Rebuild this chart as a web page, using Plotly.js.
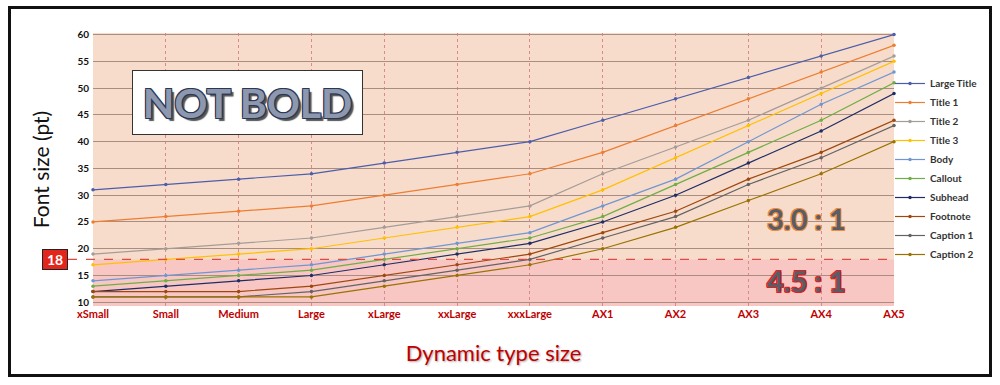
<!DOCTYPE html>
<html>
<head>
<meta charset="utf-8">
<script src="https://cdn.plot.ly/plotly-3.0.1.min.js"></script>
<style>html,body{margin:0;padding:0;background:#fff;}#chart{width:1000px;height:385px;}</style>
</head>
<body>
<div id="chart"></div>
<script>
// Dynamic type size categories
const categories = ["xSmall","Small","Medium","Large","xLarge","xxLarge","xxxLarge","AX1","AX2","AX3","AX4","AX5"];

// Font sizes (pt) per text style
const largeTitle = [31,32,33,34,36,38,40,44,48,52,56,60];
const title1     = [25,26,27,28,30,32,34,38,43,48,53,58];
const title2     = [19,20,21,22,24,26,28,34,39,44,50,56];
const title3     = [17,18,19,20,22,24,26,31,37,43,49,55];
const body       = [14,15,16,17,19,21,23,28,33,40,47,53];
const callout    = [13,14,15,16,18,20,22,26,32,38,44,51];
const subhead    = [12,13,14,15,17,19,21,25,30,36,42,49];
const footnote   = [12,12,12,13,15,17,19,23,27,33,38,44];
const caption1   = [11,11,11,12,14,16,18,22,26,32,37,43];
const caption2   = [11,11,11,11,13,15,17,20,24,29,34,40];

const seriesNames = ["Large Title","Title 1","Title 2","Title 3","Body","Callout","Subhead","Footnote","Caption 1","Caption 2"];
const seriesValues = [largeTitle,title1,title2,title3,body,callout,subhead,footnote,caption1,caption2];
const seriesColors = ["#4b5dab","#ed7d31","#a59c98","#ffc000","#6f96d2","#70ad47","#1f2d66","#9e480e","#636363","#997300"];

const threshold = 18;
const ratioHigh = "3.0 : 1";
const ratioLow = "4.5 : 1";

const traces = seriesNames.map((n,i)=>({
  type:"scatter", mode:"lines+markers", name:n,
  x:categories, y:seriesValues[i],
  line:{color:seriesColors[i], width:1.2},
  marker:{color:seriesColors[i], size:3.5},
  cliponaxis:false
}));

const F = "Lato, 'Open Sans', sans-serif";
const px = p => (p-93)/801;        // pixel x -> paper x
const py = p => (306-p)/273;       // pixel y -> paper y

const layout = {
  width:1000, height:385,
  margin:{l:93, r:106, t:33, b:79},
  paper_bgcolor:"#ffffff",
  plot_bgcolor:"#f8dccb",
  font:{family:F, color:"#222"},
  showlegend:true,
  legend:{x:px(890), y:py(69), xanchor:"left", yanchor:"top",
    font:{family:F, size:10, color:"#333", weight:"bold"},
    bgcolor:"rgba(0,0,0,0)", tracegroupgap:0},
  xaxis:{type:"category", range:[0,11], showgrid:true, gridcolor:"#d98a8a", gridwidth:1, griddash:"dot",
    zeroline:false, showline:false, ticks:"",
    tickfont:{family:F, size:11, color:"#c00000", weight:"bold"},
    title:{text:"Dynamic type size", font:{family:F, size:22, color:"#c00000", shadow:"1px 1px 2px #aaa"}, standoff:26}},
  yaxis:{range:[9.3,60.3], tick0:10, dtick:5, showgrid:true, gridcolor:"#a98d80", gridwidth:1,
    zeroline:false, showline:false, ticks:"", ticklabelstandoff:3,
    tickfont:{family:F, size:10, color:"#111", weight:"bold"},
    title:{text:"Font size (pt)", font:{family:F, size:21, color:"#111"}, standoff:22}},
  shapes:[
    {type:"rect", xref:"paper", yref:"y", x0:0, x1:1, y0:9.3, y1:threshold, fillcolor:"#f8c6c3", line:{width:0}, layer:"below"},
    {type:"line", xref:"paper", yref:"y", x0:px(68), x1:1, y0:threshold, y1:threshold, line:{color:"#e04a45", width:1.2, dash:"dash"}, layer:"above"},
    {type:"rect", xref:"paper", yref:"paper", x0:px(9.5), x1:px(990.5), y0:py(375.5), y1:py(7.5), line:{color:"#111", width:3}, fillcolor:"rgba(0,0,0,0)", layer:"above"}
  ],
  annotations:[
    {xref:"paper", yref:"y", x:px(55), y:threshold, xanchor:"center", yanchor:"middle", text:"<b>18</b>", showarrow:false,
      font:{family:F, size:14, color:"#fff"}, bgcolor:"#e3261c", bordercolor:"#222", borderwidth:1, width:22, height:17},
    {xref:"paper", yref:"paper", x:px(247.5), y:py(102.5), xanchor:"center", yanchor:"middle", text:"<b>NOT BOLD</b>", showarrow:false,
      font:{family:F, size:41, color:"#8d97ad", shadow:"1px 1px 0 #2a3858, -1px -1px 0 #2a3858, 1px -1px 0 #2a3858, -1px 1px 0 #2a3858, 3px 3px 1px #555"},
      bgcolor:"#ffffff", bordercolor:"#333", borderwidth:1, width:227, height:61},
    {xref:"paper", yref:"y", x:px(806), y:25.6, xanchor:"center", yanchor:"middle", text:ratioHigh, showarrow:false,
      font:{family:F, size:29, color:"#585d66", weight:"bold", shadow:"1px 1px 0 #ec8a3e, -1px -1px 0 #ec8a3e, 1px -1px 0 #ec8a3e, -1px 1px 0 #ec8a3e"}},
    {xref:"paper", yref:"y", x:px(806), y:14.0, xanchor:"center", yanchor:"middle", text:ratioLow, showarrow:false,
      font:{family:F, size:29, color:"#585d66", weight:"bold", shadow:"1px 1px 0 #e02020, -1px -1px 0 #e02020, 1px -1px 0 #e02020, -1px 1px 0 #e02020"}}
  ]
};

Plotly.newPlot("chart", traces, layout, {displayModeBar:false, staticPlot:true});
</script>
</body>
</html>
